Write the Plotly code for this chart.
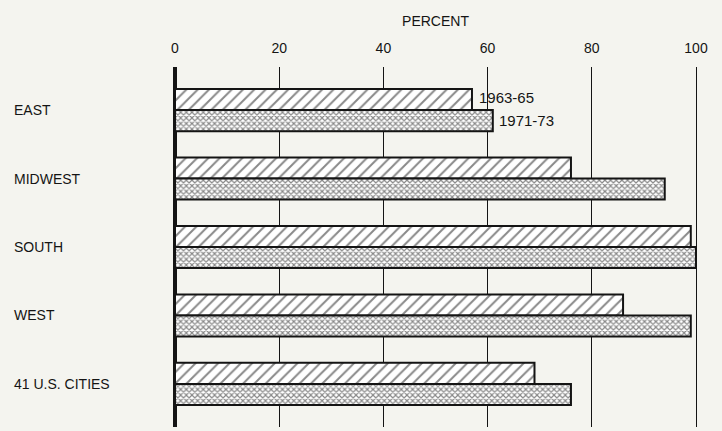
import plotly.graph_objects as go

categories = ["EAST", "MIDWEST", "SOUTH", "WEST", "41 U.S. CITIES"]
series_names = ["1963-65", "1971-73"]
values_1963_65 = [57, 76, 99, 86, 69]
values_1971_73 = [61, 94, 100, 99, 76]
tick_values = [0, 20, 40, 60, 80, 100]
axis_title = "PERCENT"

BG = "#f4f4ef"
INK = "#141414"
FONT = "Liberation Sans, Arial, sans-serif"

positions = list(range(len(categories)))
bargap = 0.385
bar_w = (1 - bargap) / 2

fig = go.Figure()
fig.add_trace(go.Bar(
    name=series_names[0], y=positions, x=values_1963_65, orientation="h",
    marker=dict(color="white", line=dict(color=INK, width=2),
                pattern=dict(shape="/", fgcolor=INK, bgcolor="white", size=8, solidity=0.25)),
))
fig.add_trace(go.Bar(
    name=series_names[1], y=positions, x=values_1971_73, orientation="h",
    marker=dict(color="white", line=dict(color=INK, width=2),
                pattern=dict(shape="x", fgcolor=INK, bgcolor="white", size=4, solidity=0.5)),
))

annotations = []
for cat, p in zip(categories, positions):
    annotations.append(dict(
        text=cat, xref="paper", yref="y", x=-0.313, y=p, xanchor="left",
        yanchor="middle", showarrow=False, font=dict(family=FONT, size=14, color=INK),
    ))
# series labels beside the first category's bars
annotations.append(dict(
    text=series_names[0], xref="x", yref="y", x=values_1963_65[0], y=positions[0] - bar_w / 2,
    xanchor="left", yanchor="middle", xshift=5, yshift=2, showarrow=False,
    font=dict(family=FONT, size=15, color=INK),
))
annotations.append(dict(
    text=series_names[1], xref="x", yref="y", x=values_1971_73[0], y=positions[0] + bar_w / 2,
    xanchor="left", yanchor="middle", xshift=4, showarrow=False,
    font=dict(family=FONT, size=15, color=INK),
))

fig.update_layout(
    width=722, height=431,
    paper_bgcolor=BG, plot_bgcolor=BG,
    margin=dict(l=175, r=26, t=67, b=4, autoexpand=False),
    barmode="group", bargap=bargap, bargroupgap=0,
    showlegend=False,
    font=dict(family=FONT, size=14, color=INK),
    annotations=annotations,
    xaxis=dict(
        side="top", range=[0, 100], tickvals=tick_values,
        ticktext=[str(v) for v in tick_values],
        showgrid=True, gridcolor=INK, gridwidth=1.4,
        zeroline=True, zerolinecolor=INK, zerolinewidth=3.5,
        showline=False, ticks="", ticklabelstandoff=10,
        tickfont=dict(family=FONT, size=14, color=INK),
        title=dict(text=axis_title, standoff=10, font=dict(family=FONT, size=14, color=INK)),
        fixedrange=True,
    ),
    yaxis=dict(
        range=[len(categories) - 1 + 0.63, -0.63],
        showticklabels=False, showgrid=False, zeroline=False,
        showline=True, mirror=True, linecolor=INK, linewidth=1.4, ticks="",
        fixedrange=True,
    ),
)

fig.write_html(
    "out.html",
    config={"displayModeBar": False},
    post_script="document.body.style.margin='0';document.body.style.background='%s';" % BG,
)
